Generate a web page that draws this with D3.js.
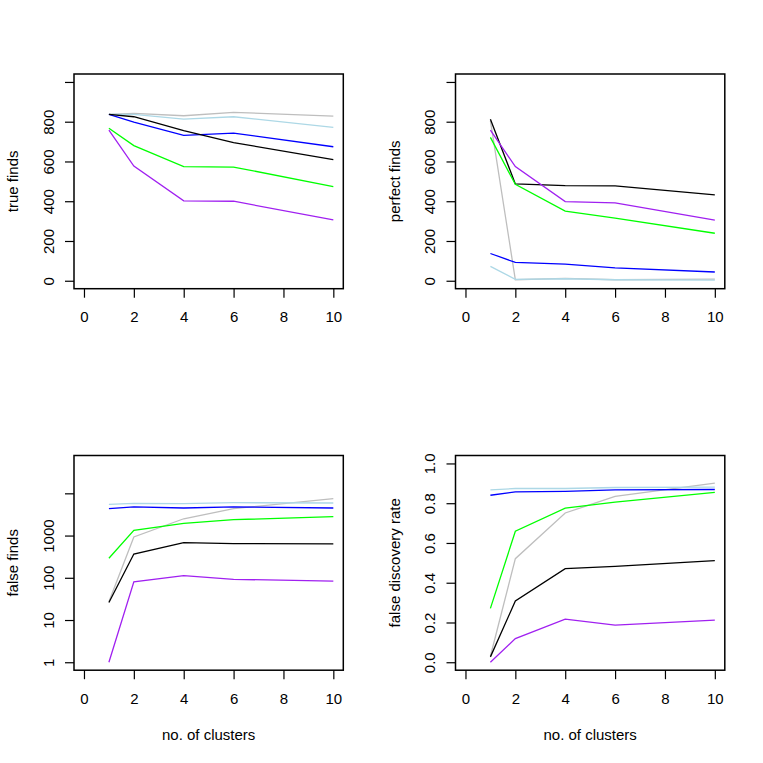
<!DOCTYPE html>
<html>
<head>
<meta charset="utf-8">
<script src="https://cdn.jsdelivr.net/npm/d3@7"></script>
<style>
  body { margin: 0; background: #fff; }
  svg { display: block; font-family: "Liberation Sans", Arial, Helvetica, sans-serif; }
</style>
</head>
<body>
<script>
// x values shared by every panel
var clusters = [1, 2, 4, 6, 10];

// one colour per method, same order as the rows below
var methodColors = ["#BEBEBE", "#ADD8E6", "#0000FF", "#000000", "#00FF00", "#A020F0"];

var trueFinds = [
    [837, 842, 830, 847, 828],
    [837, 837, 813, 825, 772],
    [837, 798, 731, 743, 674],
    [837, 825, 755, 695, 609],
    [767, 680, 574, 572, 474],
    [758, 577, 402, 400, 306]
];

var perfectFinds = [
    [805, 5, 12, 5, 8],
    [72, 7, 10, 5, 3],
    [137, 92, 84, 65, 44],
    [812, 487, 479, 477, 432],
    [721, 485, 350, 315, 239],
    [758, 574, 398, 392, 305]
];

var falseFinds = [
    [27, 925, 2500, 4340, 7480],
    [5500, 5800, 5700, 6000, 5900],
    [4340, 4800, 4500, 4800, 4500],
    [26, 366, 680, 645, 635],
    [290, 1330, 1950, 2380, 2800],
    [1, 80, 113, 92, 83]
];

var falseDiscoveryRate = [
    [0.03, 0.521, 0.751, 0.834, 0.901],
    [0.867, 0.874, 0.874, 0.879, 0.881],
    [0.840, 0.857, 0.860, 0.867, 0.869],
    [0.027, 0.308, 0.471, 0.482, 0.511],
    [0.271, 0.659, 0.775, 0.805, 0.855],
    [0, 0.119, 0.217, 0.187, 0.212]
];

var xTicks = [0, 2, 4, 6, 8, 10];
var countTicks = [0, 200, 400, 600, 800, 1000];
var logTicks = [1, 10, 100, 1000, 10000];
var rateTicks = [0, 0.2, 0.4, 0.6, 0.8, 1];

var width = 763, height = 763, cell = width / 2;
var margin = {top: 74, right: 38.2, bottom: 92.8, left: 74};
var fontSize = 15;

var svg = d3.select("body").append("svg")
    .attr("width", width)
    .attr("height", height);

// R style 4% padding on the axis limits
function pad(lo, hi) {
    var r = hi - lo;
    return [lo - 0.04 * r, hi + 0.04 * r];
}

function drawPanel(col, row, values, opt) {
    var w = cell - margin.left - margin.right,
        h = cell - margin.top - margin.bottom;

    var g = svg.append("g")
        .attr("transform", "translate(" + (col * cell + margin.left) + "," + (row * cell + margin.top) + ")");

    var x = d3.scaleLinear().domain(pad(0, 10)).range([0, w]);

    var y;
    if (opt.log) {
        var ld = pad(Math.log10(opt.ylim[0]), Math.log10(opt.ylim[1]));
        y = d3.scaleLog().domain([Math.pow(10, ld[0]), Math.pow(10, ld[1])]).range([h, 0]);
    } else {
        y = d3.scaleLinear().domain(pad(opt.ylim[0], opt.ylim[1])).range([h, 0]);
    }

    var line = d3.line()
        .x(function(d, i) { return x(clusters[i]); })
        .y(function(d) { return y(d); });

    g.append("g").selectAll("path")
        .data(values)
        .enter().append("path")
        .attr("d", line)
        .attr("fill", "none")
        .attr("stroke", function(d, i) { return methodColors[i]; })
        .attr("stroke-width", 1.3);

    var xAxis = g.append("g")
        .attr("transform", "translate(0," + h + ")")
        .call(d3.axisBottom(x).tickValues(xTicks).tickSize(9).tickFormat(d3.format("d")));
    xAxis.select(".domain").remove();
    xAxis.selectAll("text")
        .attr("y", 33.5)
        .attr("dy", null)
        .attr("font-size", fontSize)
        .attr("fill", "#000");

    var yAxis = g.append("g")
        .call(d3.axisLeft(y).tickValues(opt.ticks).tickSize(9).tickFormat(opt.fmt));
    yAxis.select(".domain").remove();
    yAxis.selectAll("text")
        .attr("transform", "rotate(-90)")
        .attr("x", 0)
        .attr("y", -20.5)
        .attr("dy", null)
        .attr("text-anchor", "middle")
        .attr("font-size", fontSize)
        .attr("fill", "#000");
    g.selectAll(".tick line").attr("stroke", "#000").attr("stroke-width", 1.2);

    g.append("rect")
        .attr("width", w)
        .attr("height", h)
        .attr("fill", "none")
        .attr("stroke", "#000")
        .attr("stroke-width", 1.5);

    g.append("text")
        .attr("transform", "translate(-56," + (h / 2) + ")rotate(-90)")
        .attr("text-anchor", "middle")
        .attr("font-size", fontSize)
        .text(opt.ylab);

    if (row === 1) {
        g.append("text")
            .attr("x", w / 2)
            .attr("y", h + 70)
            .attr("text-anchor", "middle")
            .attr("font-size", fontSize)
            .text("no. of clusters");
    }
}

// last tick carries no label in the original
function dropLast(ticks, f) {
    return function(d) { return d === ticks[ticks.length - 1] ? "" : f(d); };
}

drawPanel(0, 0, trueFinds, {ylim: [0, 1000], ticks: countTicks, fmt: dropLast(countTicks, d3.format("d")), ylab: "true finds"});
drawPanel(1, 0, perfectFinds, {ylim: [0, 1000], ticks: countTicks, fmt: dropLast(countTicks, d3.format("d")), ylab: "perfect finds"});
drawPanel(0, 1, falseFinds, {log: true, ylim: [1, 51000], ticks: logTicks, fmt: dropLast(logTicks, d3.format("d")), ylab: "false finds"});
drawPanel(1, 1, falseDiscoveryRate, {ylim: [0, 1], ticks: rateTicks, fmt: d3.format(".1f"), ylab: "false discovery rate"});
</script>
</body>
</html>
